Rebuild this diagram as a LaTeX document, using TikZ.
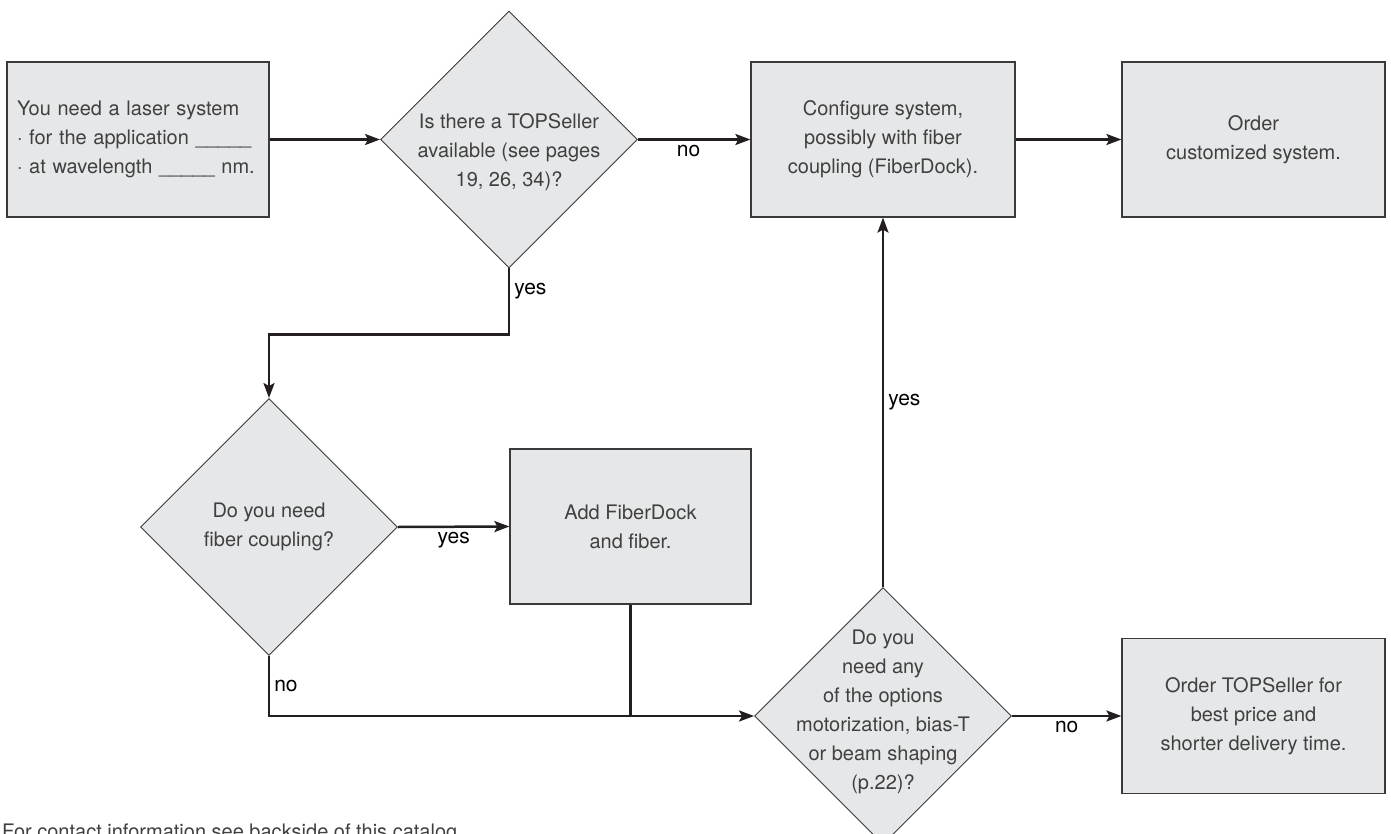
\documentclass[tikz,border=0pt]{standalone}
\usepackage{fontspec}
\setmainfont{TeX Gyre Heros}
\usetikzlibrary{shapes.geometric,arrows.meta}
\definecolor{boxfill}{HTML}{E6E7E8}
\definecolor{boxline}{HTML}{3A3A3A}
\definecolor{boxtext}{HTML}{404040}
\definecolor{flow}{HTML}{231F20}
\begin{document}
\begin{tikzpicture}[x=1pt, y=-1pt,
    every node/.style={font=\fontsize{20}{29}\selectfont},
    box/.style={draw=boxline, line width=1.2pt, fill=boxfill, text=boxtext, align=center, minimum height=155pt, inner sep=0pt},
    decision/.style={diamond, aspect=1, draw=boxline, line width=0.9pt, fill=boxfill, minimum size=257pt, inner sep=0pt},
    qtext/.style={text=boxtext, align=center, inner sep=0pt},
    flowline/.style={draw=flow, line width=2.5pt},
    arr/.style={flowline, -{Stealth[length=15pt, width=11pt, inset=3pt]}},
    lbl/.style={text=black, inner sep=4pt, font=\fontsize{21}{29}\selectfont}]
    \path[use as bounding box] (0,0) rectangle (1391,834);
    \clip (0,0) rectangle (1391,834);
    % top row
    \node[box, minimum width=262pt, text width=242pt, align=left] (need) at (138,139.5) {You need a laser system\\ · for the application \_\_\_\_\_\\ · at wavelength \_\_\_\_\_ nm.};
    \node[decision] (q1) at (509,139.5) {};
    \node[qtext] (q1t) at (509,152) {Is there a TOPSeller\\ available (see pages\\ 19, 26, 34)?};
    \node[box, minimum width=264pt] (config) at (883,139.5) {Configure system,\\ possibly with fiber\\ coupling (FiberDock).};
    \node[box, minimum width=263pt] (order) at (1253.5,139.5) {Order\\ customized system.};
    % middle and bottom
    \node[decision] (q2) at (269,527) {};
    \node[qtext] (q2t) at (q2) {Do you need\\ fiber coupling?};
    \node[box, minimum width=241pt] (add) at (630.5,526.5) {Add FiberDock\\ and fiber.};
    \node[decision] (q3) at (883,716) {};
    \node[qtext] (q3t) at (883,712) {Do you\\ need any\\ of the options\\ motorization, bias-T\\ or beam shaping\\ (p.22)?};
    \node[box, minimum width=263pt] (top) at (1253.5,716) {Order TOPSeller for\\ best price and\\ shorter delivery time.};
    \node[anchor=north west, text=boxtext, inner sep=0pt] (foot) at (2,824) {For contact information see backside of this catalog.};
    \coordinate (join) at (add.south |- q3.west);
    % connectors
    \draw[arr] (need) -- (q1);
    \draw[arr] (q1.east) -- node[lbl, below, pos=0.45] {no} (config.west);
    \draw[arr] (config) -- (order);
    \draw[arr] (q1.south) -- ++(0,66) node[lbl, right, pos=0.35] {yes} -| (q2.north);
    \draw[arr] (q2.east) -- node[lbl, below] {yes} (add.west);
    \draw[arr] (q2.south) |- node[lbl, right, pos=0.25] {no} (q3.west);
    \draw[flowline] (add.south) -- (join);
    \draw[arr] (q3.north) -- node[lbl, right] {yes} (config.south);
    \draw[arr] (q3.east) -- node[lbl, below] {no} (top.west);
\end{tikzpicture}
\end{document}
